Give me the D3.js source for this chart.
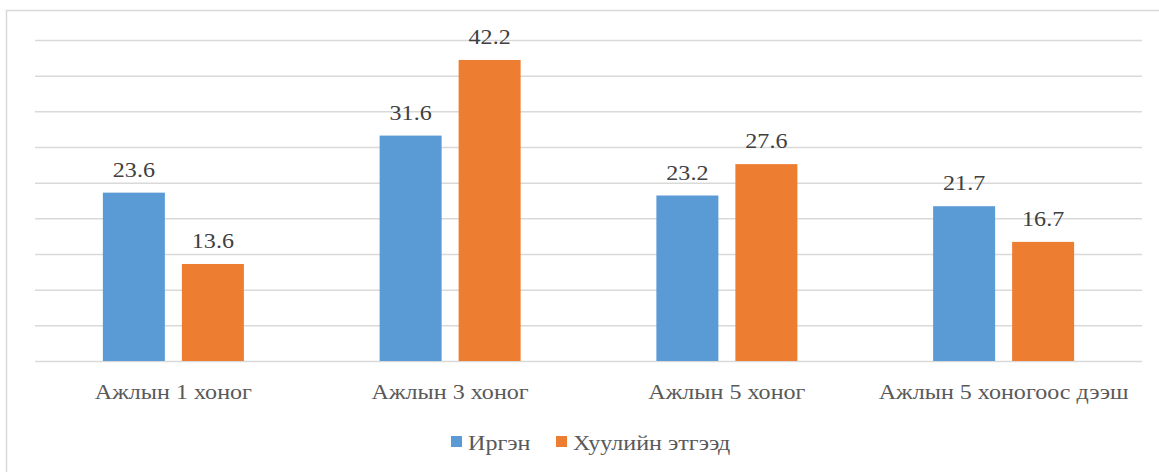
<!DOCTYPE html>
<html>
<head>
<meta charset="utf-8">
<script src="https://cdn.jsdelivr.net/npm/d3@7"></script>
<style>
  html, body { margin: 0; padding: 0; background: #fff; }
  svg { display: block; }
</style>
</head>
<body>
<svg id="chart" width="1159" height="472"></svg>
<script>
// Categories and series
const categories = ["Ажлын 1 хоног", "Ажлын 3 хоног", "Ажлын 5 хоног", "Ажлын 5 хоногоос дээш"];
const seriesNames = ["Иргэн", "Хуулийн этгээд"];
const irgen = [23.6, 31.6, 23.2, 21.7];
const huuliin = [13.6, 42.2, 27.6, 16.7];
const gridTicks = [0, 5, 10, 15, 20, 25, 30, 35, 40, 45];
const colors = ["#5B9BD5", "#ED7D31"];

const FONT = "'Liberation Serif', 'Times New Roman', 'DejaVu Serif', serif";
const FS = "21.5px";
const STRETCH = 1.12; // text is set slightly wide

const svg = d3.select("#chart");
const W = 1159, H = 472;
const margin = { left: 35, right: 17, top: 40, bottom: 111 };
const plotW = W - margin.left - margin.right;
const plotH = H - margin.top - margin.bottom;

// Outer chart frame
svg.append("path")
  .attr("d", `M6.5,${H} V10.5 H${W}`)
  .attr("fill", "none")
  .attr("stroke", "#D9D9D9")
  .attr("stroke-width", 1.5);

const g = svg.append("g").attr("transform", `translate(${margin.left},${margin.top})`);

const x0 = d3.scaleBand().domain(categories).range([0, plotW]);
const y = d3.scaleLinear().domain([0, 45]).range([plotH, 0]);

// Horizontal gridlines
g.append("g")
  .call(d3.axisLeft(y).tickValues(gridTicks).tickSize(-plotW).tickFormat(""))
  .call(a => a.select(".domain").remove())
  .call(a => a.selectAll("line").attr("stroke", "#D9D9D9").attr("stroke-width", 1.5));

// Bars: two series per category
const barW = 62, gap = 17;
const rows = categories.map((c, i) => ({ cat: c, vals: [irgen[i], huuliin[i]] }));

const groups = g.selectAll(".cat")
  .data(rows)
  .enter().append("g")
  .attr("transform", d => `translate(${x0(d.cat) + x0.bandwidth() / 2 - (barW * 2 + gap) / 2},0)`);

groups.selectAll("rect")
  .data(d => d.vals.map((v, k) => ({ v, k })))
  .enter().append("rect")
  .attr("x", d => d.k * (barW + gap))
  .attr("width", barW)
  .attr("y", d => y(d.v))
  .attr("height", d => plotH - y(d.v))
  .attr("fill", d => colors[d.k]);

// Value labels
groups.selectAll("text.val")
  .data(d => d.vals.map((v, k) => ({ v, k })))
  .enter().append("text")
  .attr("class", "val")
  .attr("transform", d => `translate(${d.k * (barW + gap) + barW / 2},${y(d.v) - 16}) scale(${STRETCH},1)`)
  .attr("text-anchor", "middle")
  .style("font-family", FONT)
  .style("font-size", FS)
  .attr("fill", "#404040")
  .text(d => d.v.toFixed(1));

// Category axis labels
const xAxis = g.append("g")
  .attr("transform", `translate(0,${plotH})`)
  .call(d3.axisBottom(x0).tickSize(0).tickPadding(0));
xAxis.select(".domain").remove();
xAxis.selectAll("text")
  .attr("y", 0)
  .attr("dy", 0)
  .attr("transform", `translate(0,38) scale(${STRETCH},1)`)
  .style("font-family", FONT)
  .style("font-size", FS)
  .attr("fill", "#595959");

// Legend
const legend = svg.append("g").attr("transform", "translate(0,450)");
const legendItems = [
  { name: seriesNames[0], color: colors[0], x: 451 },
  { name: seriesNames[1], color: colors[1], x: 556 }
];
legendItems.forEach(it => {
  legend.append("rect")
    .attr("x", it.x).attr("y", -14)
    .attr("width", 11).attr("height", 11)
    .attr("fill", it.color);
  legend.append("text")
    .attr("transform", `translate(${it.x + 17},0) scale(${STRETCH},1)`)
    .style("font-family", FONT)
    .style("font-size", FS)
    .attr("fill", "#595959")
    .text(it.name);
});
</script>
</body>
</html>
